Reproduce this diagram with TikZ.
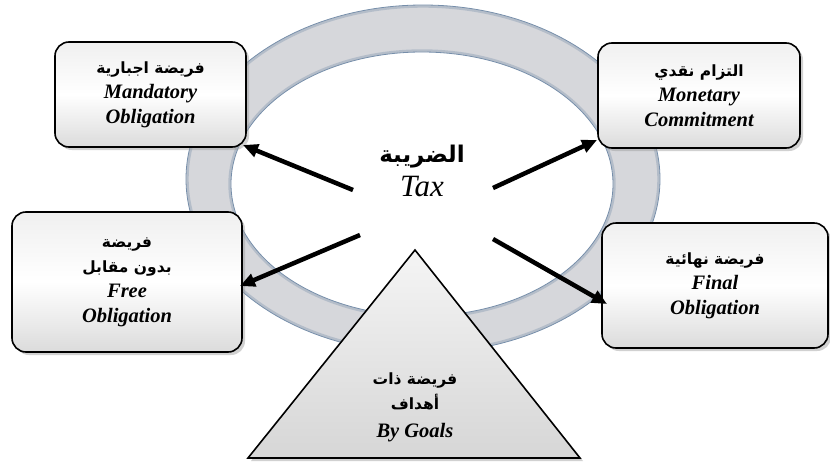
\documentclass[tikz,border=0pt]{standalone}
\usepackage{fontspec}
\setmainfont{Liberation Serif}
\newfontfamily\arfont[Script=Arabic]{DejaVu Sans}
\TeXXeTstate=1
\usetikzlibrary{shadows,arrows.meta}

\definecolor{ringfill}{RGB}{214,215,219}
\definecolor{ringedge}{RGB}{118,142,170}

\newcommand{\artxt}[1]{{\arfont\bfseries\fontsize{15.5}{25}\selectfont\beginR #1\endR}}
\newcommand{\entxt}[1]{{\bfseries\itshape #1}}

\begin{document}
\begin{tikzpicture}[x=1pt,y=-1pt,
  box/.style={draw=black, line width=1.6pt, rounded corners=14pt,
    top color=gray!12, bottom color=gray!28, middle color=white,
    align=center, font=\fontsize{20.5}{25}\selectfont, inner sep=0pt,
    drop shadow={shadow xshift=3pt, shadow yshift=-3pt, opacity=.45, fill=gray!80}},
  tri/.style={draw=black, line width=1.6pt, top color=gray!8, bottom color=gray!32,
    drop shadow={shadow xshift=3pt, shadow yshift=-3pt, opacity=.45, fill=gray!80}},
  arr/.style={line width=4.5pt, -{Triangle[length=15pt,width=13pt]}},
  lbl/.style={align=center, inner sep=0pt, font=\fontsize{20.5}{25}\selectfont}
]
\useasboundingbox (0,0) rectangle (830,466);

% ring
\fill[ringfill, even odd rule] (423,179) ellipse [x radius=237pt, y radius=174pt]
                               (422,184) ellipse [x radius=191pt, y radius=132pt];
\draw[ringedge, line width=2.4pt, opacity=.35] (423,179) ellipse [x radius=235.5pt, y radius=172.5pt];
\draw[ringedge, line width=2.4pt, opacity=.35] (422,184) ellipse [x radius=192.5pt, y radius=133.5pt];
\draw[ringedge, line width=0.8pt] (423,179) ellipse [x radius=237pt, y radius=174pt];
\draw[ringedge, line width=0.8pt] (422,184) ellipse [x radius=191pt, y radius=132pt];

% boxes
\node[box, minimum width=191pt, minimum height=105pt] (b1) at (150.5,94.5)
  {\artxt{فريضة اجبارية}\\\entxt{Mandatory}\\\entxt{Obligation}};
\node[box, minimum width=202pt, minimum height=105pt] (b2) at (699,95.5)
  {\artxt{التزام نقدي}\\\entxt{Monetary}\\\entxt{Commitment}};
\node[box, minimum width=230pt, minimum height=140pt] (b3) at (127,282)
  {\artxt{فريضة}\\\artxt{بدون مقابل}\\\entxt{Free}\\\entxt{Obligation}};
\node[box, minimum width=226pt, minimum height=125pt] (b4) at (715,285.5)
  {\artxt{فريضة نهائية}\\\entxt{Final}\\\entxt{Obligation}};

% triangle
\coordinate (ta) at (415,250);
\coordinate (tr) at (580,458);
\coordinate (tl) at (248,458);
\path[tri] (ta) -- (tr) -- (tl) -- cycle;
\node[lbl] (goals) at (415,407)
  {\artxt{فريضة ذات}\\\artxt{أهداف}\\[3pt]\entxt{By Goals}};

% centre
\node[align=center, inner sep=0pt] (tax) at (422,171)
  {{\arfont\bfseries\fontsize{23}{29}\selectfont\beginR الضريبة\endR}\\[7pt]
   {\itshape\fontsize{31}{29}\selectfont Tax}};

% arrows
\coordinate (s1) at (353,190);
\coordinate (s2) at (493,188);
\coordinate (s3) at (360,235);
\coordinate (s4) at (493,239);
\coordinate (t1) at (243,145);
\coordinate (t2) at (597,140);
\coordinate (t3) at (240,286);
\coordinate (t4) at (607,304);
\draw[arr] (s1) -- (t1);
\draw[arr] (s2) -- (t2);
\draw[arr] (s3) -- (t3);
\draw[arr] (s4) -- (t4);
\end{tikzpicture}
\end{document}
